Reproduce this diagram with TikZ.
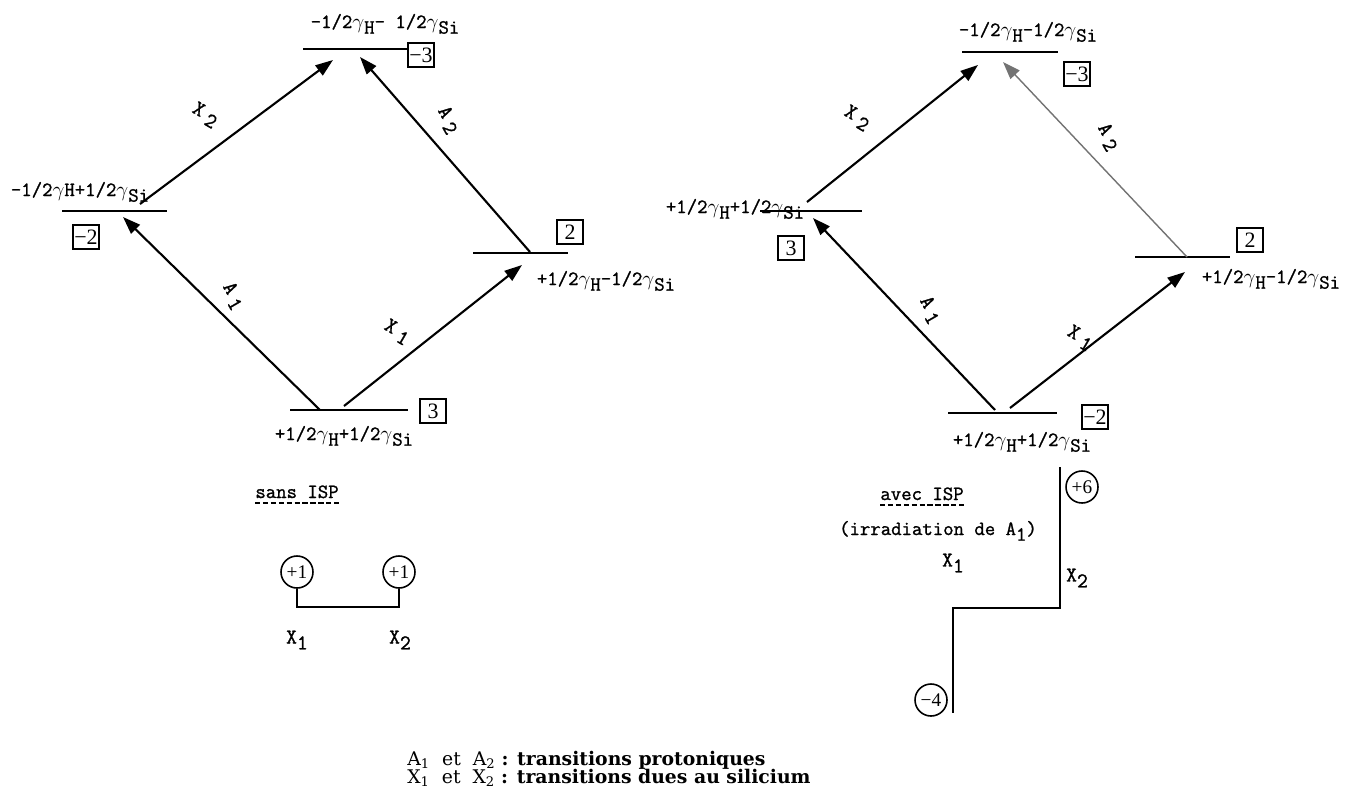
\documentclass[tikz,border=0pt]{standalone}
\usepackage{fontspec}
\setmainfont{Liberation Serif}
\newfontfamily\twfont{Latin Modern Mono}[FakeBold=1.2]
\newfontfamily\legfont{DejaVu Serif}
\usetikzlibrary{arrows.meta}
\usetikzlibrary{positioning}

\tikzset{
  lvl/.style={line width=1.3pt},
  trans/.style={line width=1.2pt,-{Triangle[length=10pt,width=7pt]}},
  nrj/.style={font=\twfont\fontsize{11.5}{13}\selectfont,inner sep=0pt,anchor=base},
  tlbl/.style={font=\twfont\fontsize{12}{13}\selectfont,inner sep=0pt},
  nbox/.style={draw,line width=1.1pt,minimum width=0.52cm,minimum height=0.48cm,inner sep=0pt,font=\fontsize{12.5}{13}\selectfont},
  ncirc/.style={draw,circle,line width=0.9pt,minimum size=0.64cm,inner sep=0pt,font=\fontsize{11}{12}\selectfont},
  uline/.style={line width=0.8pt,dash pattern=on 3pt off 1.5pt},
  legend/.style={font=\legfont\fontsize{10.7}{11}\selectfont,inner sep=0pt,anchor=base west}
}
\newcommand{\lw}[1]{\raisebox{-0.65ex}{#1}}
\newcommand{\rlw}[1]{\hspace{3pt}\raisebox{-0.5ex}{#1}}

\begin{document}
\begin{tikzpicture}[x=0.02cm,y=-0.02cm]
\useasboundingbox (0,0) rectangle (1361,805);

% sans ISP
\draw[lvl] (303,49) -- (407,49);
\draw[lvl] (62,211) -- (167,211);
\draw[lvl] (473,253) -- (568,253);
\draw[lvl] (290,410) -- (408,410);
\node[nrj] (gEt) at (385,28) {-1/2$\gamma$\lw{H}- 1/2$\gamma$\lw{Si}};
\node[nrj] (gEg) at (80,196) {-1/2$\gamma$H+1/2$\gamma$\lw{Si}};
\node[nrj] (gEd) at (606,285) {+1/2$\gamma$\lw{H}-1/2$\gamma$\lw{Si}};
\node[nrj] (gEb) at (344,440) {+1/2$\gamma$\lw{H}+1/2$\gamma$\lw{Si}};
\node[nbox] (gBt) at (421,55) {−3};
\node[nbox] (gBg) at (86,237) {−2};
\node[nbox] (gBd) at (570,232) {2};
\node[nbox] (gBb) at (433,411) {3};
\coordinate (gA1s) at (320,410); \coordinate (gA1e) at (123,217);
\coordinate (gX1s) at (344,406); \coordinate (gX1e) at (522,265);
\coordinate (gX2s) at (140,204); \coordinate (gX2e) at (333,60);
\coordinate (gA2s) at (530,252); \coordinate (gA2e) at (360,57);
\draw[trans] (gA1s) -- (gA1e);
\draw[trans] (gX1s) -- (gX1e);
\draw[trans] (gX2s) -- (gX2e);
\draw[trans] (gA2s) -- (gA2e);
\node[tlbl,rotate=-30] (gLX2) at (205,115) {X\rlw{2}};
\node[tlbl,rotate=-60] (gLA2) at (448,120) {A\rlw{2}};
\node[tlbl,rotate=-60] (gLA1) at (233,296) {A\rlw{1}};
\node[tlbl,rotate=-30] (gLX1) at (397,332) {X\rlw{1}};

\node[nrj] (sans) at (297,498) {sans ISP};
\draw[uline] ([yshift=-2.5pt]sans.south west) -- ([yshift=-2.5pt]sans.south east);
\node[ncirc] (gC1) at (297,572) {+1};
\node[ncirc] (gC2) at (399,572) {+1};
\coordinate (gJ) at (0,607);
\draw[line width=1.1pt] (gC1.south) -- (gC1.south |- gJ) -| (gC2.south);
\node[tlbl] (gS1) at (297,640) {X\lw{1}};
\node[tlbl] (gS2) at (400,640) {X\lw{2}};

% avec ISP
\draw[lvl] (962,52) -- (1058,52);
\draw[lvl] (760,211) -- (862,211);
\draw[lvl] (1135,257) -- (1230,257);
\draw[lvl] (948,413) -- (1057,413);
\node[nrj] (dEt) at (1028,36) {-1/2$\gamma$\lw{H}-1/2$\gamma$\lw{Si}};
\node[nrj] (dEg) at (735,213) {+1/2$\gamma$\lw{H}+1/2$\gamma$\lw{Si}};
\node[nrj] (dEd) at (1271,283) {+1/2$\gamma$\lw{H}-1/2$\gamma$\lw{Si}};
\node[nrj] (dEb) at (1022,446) {+1/2$\gamma$\lw{H}+1/2$\gamma$\lw{Si}};
\node[nbox] (dBt) at (1077,74) {−3};
\node[nbox] (dBg) at (791,248) {3};
\node[nbox] (dBd) at (1250,240) {2};
\node[nbox] (dBb) at (1095,417) {−2};
\coordinate (dA1s) at (995,410); \coordinate (dA1e) at (813,218);
\coordinate (dX1s) at (1010,408); \coordinate (dX1e) at (1185,272);
\coordinate (dX2s) at (807,202); \coordinate (dX2e) at (978,65);
\coordinate (dA2s) at (1187,257); \coordinate (dA2e) at (1003,62);
\draw[trans] (dA1s) -- (dA1e);
\draw[trans] (dX1s) -- (dX1e);
\draw[trans] (dX2s) -- (dX2e);
\draw[trans,draw=black!55,fill=black!55,line width=0.8pt] (dA2s) -- (dA2e);
\node[tlbl,rotate=-30] (dLX2) at (857,118) {X\rlw{2}};
\node[tlbl,rotate=-60] (dLA2) at (1108,137) {A\rlw{2}};
\node[tlbl,rotate=-60] (dLA1) at (930,310) {A\rlw{1}};
\node[tlbl,rotate=-30] (dLX1) at (1080,338) {X\rlw{1}};

\node[nrj] (avec) at (922,500) {avec ISP};
\draw[uline] ([yshift=-2.5pt]avec.south west) -- ([yshift=-2.5pt]avec.south east);
\node[nrj] (irr) at (938,535) {(irradiation de A\lw{1})};
\node[tlbl] (dS1) at (953,563) {X\lw{1}};
\node[tlbl] (dS2) at (1077,578) {X\lw{2}};
\coordinate (dV1) at (1060,467); \coordinate (dV2) at (1060,608);
\coordinate (dV3) at (953,608); \coordinate (dV4) at (953,713);
\draw[line width=1.1pt] (dV1) -- (dV2) -- (dV3) -- (dV4);
\node[ncirc] (dC6) at (1082,487) {+6};
\node[ncirc] (dC4) at (931,700) {−4};

% legende
\node[legend] (leg1) at (407,765) {A\textsubscript{1}\ \ et\ \ A\textsubscript{2} \textbf{: transitions protoniques}};
\node[legend] (leg2) at (407,783) {X\textsubscript{1}\ \ et\ \ X\textsubscript{2} \textbf{: transitions dues au silicium}};

\end{tikzpicture}
\end{document}
